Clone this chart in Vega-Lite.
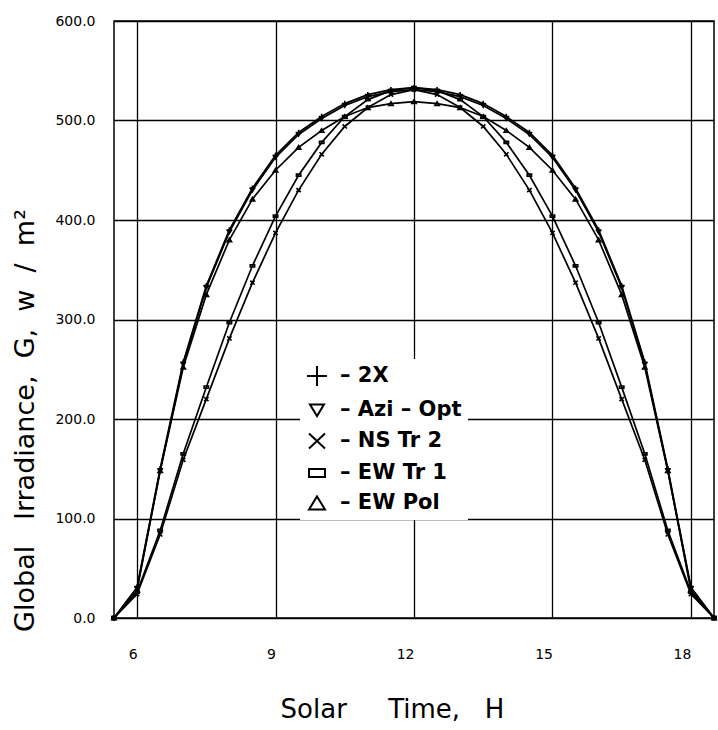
{
  "$schema": "https://vega.github.io/schema/vega-lite/v6.json",
  "width": 600,
  "height": 597,
  "autosize": {"type": "none"},
  "padding": {"left": 114, "top": 21, "right": 4, "bottom": 112},
  "background": "white",
  "config": {
    "view": {"stroke": "black", "strokeWidth": 1.5},
    "font": "DejaVu Sans",
    "axis": {
      "grid": true, "gridColor": "black", "gridOpacity": 1, "gridWidth": 1.3,
      "domain": false, "ticks": false,
      "labelColor": "black", "labelFont": "DejaVu Sans", "labelFontSize": 14,
      "titleColor": "black", "titleFont": "DejaVu Sans", "titleFontWeight": "normal"
    }
  },
  "data": {
    "values": [
      {"t": 5.5, "series": "2X", "G": 0}, {"t": 6, "series": "2X", "G": 31}, {"t": 6.5, "series": "2X", "G": 150}, {"t": 7, "series": "2X", "G": 257}, {"t": 7.5, "series": "2X", "G": 334}, {"t": 8, "series": "2X", "G": 390}, {"t": 8.5, "series": "2X", "G": 432}, {"t": 9, "series": "2X", "G": 465}, {"t": 9.5, "series": "2X", "G": 488}, {"t": 10, "series": "2X", "G": 504}, {"t": 10.5, "series": "2X", "G": 517}, {"t": 11, "series": "2X", "G": 526}, {"t": 11.5, "series": "2X", "G": 531}, {"t": 12, "series": "2X", "G": 533}, {"t": 12.5, "series": "2X", "G": 531}, {"t": 13, "series": "2X", "G": 526}, {"t": 13.5, "series": "2X", "G": 517}, {"t": 14, "series": "2X", "G": 504}, {"t": 14.5, "series": "2X", "G": 488}, {"t": 15, "series": "2X", "G": 465}, {"t": 15.5, "series": "2X", "G": 432}, {"t": 16, "series": "2X", "G": 390}, {"t": 16.5, "series": "2X", "G": 334}, {"t": 17, "series": "2X", "G": 257}, {"t": 17.5, "series": "2X", "G": 150}, {"t": 18, "series": "2X", "G": 31}, {"t": 18.5, "series": "2X", "G": 0},
      {"t": 5.5, "series": "Azi – Opt", "G": 0}, {"t": 6, "series": "Azi – Opt", "G": 30}, {"t": 6.5, "series": "Azi – Opt", "G": 148}, {"t": 7, "series": "Azi – Opt", "G": 255}, {"t": 7.5, "series": "Azi – Opt", "G": 332}, {"t": 8, "series": "Azi – Opt", "G": 388}, {"t": 8.5, "series": "Azi – Opt", "G": 430}, {"t": 9, "series": "Azi – Opt", "G": 463}, {"t": 9.5, "series": "Azi – Opt", "G": 486}, {"t": 10, "series": "Azi – Opt", "G": 502}, {"t": 10.5, "series": "Azi – Opt", "G": 515}, {"t": 11, "series": "Azi – Opt", "G": 524}, {"t": 11.5, "series": "Azi – Opt", "G": 529}, {"t": 12, "series": "Azi – Opt", "G": 531}, {"t": 12.5, "series": "Azi – Opt", "G": 529}, {"t": 13, "series": "Azi – Opt", "G": 524}, {"t": 13.5, "series": "Azi – Opt", "G": 515}, {"t": 14, "series": "Azi – Opt", "G": 502}, {"t": 14.5, "series": "Azi – Opt", "G": 486}, {"t": 15, "series": "Azi – Opt", "G": 463}, {"t": 15.5, "series": "Azi – Opt", "G": 430}, {"t": 16, "series": "Azi – Opt", "G": 388}, {"t": 16.5, "series": "Azi – Opt", "G": 332}, {"t": 17, "series": "Azi – Opt", "G": 255}, {"t": 17.5, "series": "Azi – Opt", "G": 148}, {"t": 18, "series": "Azi – Opt", "G": 30}, {"t": 18.5, "series": "Azi – Opt", "G": 0},
      {"t": 5.5, "series": "NS Tr 2", "G": 0}, {"t": 6, "series": "NS Tr 2", "G": 24}, {"t": 6.5, "series": "NS Tr 2", "G": 84}, {"t": 7, "series": "NS Tr 2", "G": 159}, {"t": 7.5, "series": "NS Tr 2", "G": 220}, {"t": 8, "series": "NS Tr 2", "G": 281}, {"t": 8.5, "series": "NS Tr 2", "G": 337}, {"t": 9, "series": "NS Tr 2", "G": 387}, {"t": 9.5, "series": "NS Tr 2", "G": 430}, {"t": 10, "series": "NS Tr 2", "G": 466}, {"t": 10.5, "series": "NS Tr 2", "G": 494}, {"t": 11, "series": "NS Tr 2", "G": 513}, {"t": 11.5, "series": "NS Tr 2", "G": 526}, {"t": 12, "series": "NS Tr 2", "G": 531}, {"t": 12.5, "series": "NS Tr 2", "G": 526}, {"t": 13, "series": "NS Tr 2", "G": 513}, {"t": 13.5, "series": "NS Tr 2", "G": 494}, {"t": 14, "series": "NS Tr 2", "G": 466}, {"t": 14.5, "series": "NS Tr 2", "G": 430}, {"t": 15, "series": "NS Tr 2", "G": 387}, {"t": 15.5, "series": "NS Tr 2", "G": 337}, {"t": 16, "series": "NS Tr 2", "G": 281}, {"t": 16.5, "series": "NS Tr 2", "G": 220}, {"t": 17, "series": "NS Tr 2", "G": 159}, {"t": 17.5, "series": "NS Tr 2", "G": 84}, {"t": 18, "series": "NS Tr 2", "G": 24}, {"t": 18.5, "series": "NS Tr 2", "G": 0},
      {"t": 5.5, "series": "EW Tr 1", "G": 0}, {"t": 6, "series": "EW Tr 1", "G": 26}, {"t": 6.5, "series": "EW Tr 1", "G": 88}, {"t": 7, "series": "EW Tr 1", "G": 165}, {"t": 7.5, "series": "EW Tr 1", "G": 232}, {"t": 8, "series": "EW Tr 1", "G": 297}, {"t": 8.5, "series": "EW Tr 1", "G": 354}, {"t": 9, "series": "EW Tr 1", "G": 404}, {"t": 9.5, "series": "EW Tr 1", "G": 445}, {"t": 10, "series": "EW Tr 1", "G": 478}, {"t": 10.5, "series": "EW Tr 1", "G": 504}, {"t": 11, "series": "EW Tr 1", "G": 521}, {"t": 11.5, "series": "EW Tr 1", "G": 530}, {"t": 12, "series": "EW Tr 1", "G": 533}, {"t": 12.5, "series": "EW Tr 1", "G": 530}, {"t": 13, "series": "EW Tr 1", "G": 521}, {"t": 13.5, "series": "EW Tr 1", "G": 504}, {"t": 14, "series": "EW Tr 1", "G": 478}, {"t": 14.5, "series": "EW Tr 1", "G": 445}, {"t": 15, "series": "EW Tr 1", "G": 404}, {"t": 15.5, "series": "EW Tr 1", "G": 354}, {"t": 16, "series": "EW Tr 1", "G": 297}, {"t": 16.5, "series": "EW Tr 1", "G": 232}, {"t": 17, "series": "EW Tr 1", "G": 165}, {"t": 17.5, "series": "EW Tr 1", "G": 88}, {"t": 18, "series": "EW Tr 1", "G": 26}, {"t": 18.5, "series": "EW Tr 1", "G": 0},
      {"t": 5.5, "series": "EW Pol", "G": 0}, {"t": 6, "series": "EW Pol", "G": 28}, {"t": 6.5, "series": "EW Pol", "G": 148}, {"t": 7, "series": "EW Pol", "G": 252}, {"t": 7.5, "series": "EW Pol", "G": 325}, {"t": 8, "series": "EW Pol", "G": 380}, {"t": 8.5, "series": "EW Pol", "G": 421}, {"t": 9, "series": "EW Pol", "G": 450}, {"t": 9.5, "series": "EW Pol", "G": 473}, {"t": 10, "series": "EW Pol", "G": 490}, {"t": 10.5, "series": "EW Pol", "G": 504}, {"t": 11, "series": "EW Pol", "G": 513}, {"t": 11.5, "series": "EW Pol", "G": 517}, {"t": 12, "series": "EW Pol", "G": 519}, {"t": 12.5, "series": "EW Pol", "G": 517}, {"t": 13, "series": "EW Pol", "G": 513}, {"t": 13.5, "series": "EW Pol", "G": 504}, {"t": 14, "series": "EW Pol", "G": 490}, {"t": 14.5, "series": "EW Pol", "G": 473}, {"t": 15, "series": "EW Pol", "G": 450}, {"t": 15.5, "series": "EW Pol", "G": 421}, {"t": 16, "series": "EW Pol", "G": 380}, {"t": 16.5, "series": "EW Pol", "G": 325}, {"t": 17, "series": "EW Pol", "G": 252}, {"t": 17.5, "series": "EW Pol", "G": 148}, {"t": 18, "series": "EW Pol", "G": 28}, {"t": 18.5, "series": "EW Pol", "G": 0}
    ]
  },
  "encoding": {
    "x": {
      "field": "t", "type": "quantitative",
      "scale": {"domain": [5.5, 18.5], "nice": false, "zero": false},
      "axis": {
        "values": [6, 9, 12, 15, 18], "format": "d",
        "labelAlign": "right", "labelDx": -3, "labelPadding": 29, "labelFontSize": 14,
        "title": "Solar\u00a0\u00a0\u00a0\u00a0\u00a0Time,\u00a0\u00a0\u00a0H",
        "titleFontSize": 26, "titleX": 278, "titleY": 99, "titleBaseline": "alphabetic", "titleAlign": "center"
      }
    },
    "y": {
      "field": "G", "type": "quantitative",
      "scale": {"domain": [0, 600], "nice": false},
      "axis": {
        "values": [0, 100, 200, 300, 400, 500, 600], "format": ".1f",
        "labelPadding": 19, "labelDy": -2, "labelFontSize": 14,
        "title": "Global\u00a0\u00a0\u00a0Irradiance,\u00a0\u00a0G,\u00a0\u00a0w\u00a0\u00a0/\u00a0\u00a0m\u00b2",
        "titleFontSize": 27, "titleAngle": 270, "titleX": -81, "titleY": 399,
        "titleBaseline": "alphabetic", "titleAlign": "center"
      }
    }
  },
  "layer": [
    {
      "mark": {"type": "line", "color": "black", "strokeWidth": 1.7},
      "encoding": {"detail": {"field": "series"}}
    },
    {
      "mark": {"type": "point", "filled": false, "color": "black", "size": 30, "strokeWidth": 1.6, "opacity": 1},
      "encoding": {
        "shape": {
          "field": "series", "type": "nominal",
          "scale": {
            "domain": ["2X", "Azi – Opt", "NS Tr 2", "EW Tr 1", "EW Pol"],
            "range": [
              "M-1,0H1M0,-1V1",
              "M-0.7,-0.55L0.7,-0.55L0,0.6Z",
              "M-0.8,-0.75L0.8,0.75M-0.8,0.75L0.8,-0.75",
              "M-0.8,-0.4H0.8V0.4H-0.8Z",
              "M-0.8,0.65L0.8,0.65L0,-0.65Z"
            ]
          },
          "legend": {
            "title": null, "orient": "none", "legendX": 186, "legendY": 338,
            "fillColor": "white", "padding": 6,
            "symbolSize": 400, "symbolStrokeColor": "black", "symbolStrokeWidth": 2, "symbolFillColor": "transparent",
            "labelFont": "DejaVu Sans", "labelFontWeight": "bold", "labelFontSize": 21, "labelColor": "black",
            "labelOffset": 12, "rowPadding": 9,
            "labelExpr": "'– ' + datum.label"
          }
        }
      }
    }
  ]
}
